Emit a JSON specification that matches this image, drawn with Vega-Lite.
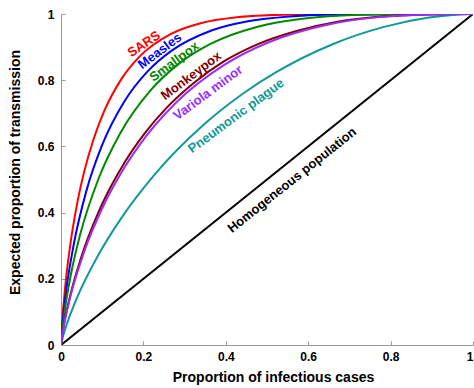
{
  "$schema": "https://vega.github.io/schema/vega-lite/v6.json",
  "width": 412,
  "height": 331,
  "autosize": "none",
  "padding": {"left": 61, "top": 14, "right": 1, "bottom": 43},
  "config": {
    "view": {"stroke": null},
    "font": "Liberation Sans",
    "axis": {
      "grid": false,
      "domainColor": "#999999",
      "tickColor": "#999999",
      "tickSize": -4,
      "labelFont": "Liberation Sans",
      "labelFontWeight": "bold",
      "labelFontSize": 12,
      "labelColor": "#000000",
      "labelFlush": false,
      "labelOverlap": false,
      "titleFont": "Liberation Sans",
      "titleFontSize": 14,
      "titleFontWeight": "bold",
      "titleColor": "#000000"
    }
  },
  "datasets": {
    "curves": [
      {"series": "Homogeneous population", "x": 0, "y": 0},
      {"series": "Homogeneous population", "x": 1, "y": 1},
      {"series": "Pneumonic plague", "x": 0, "y": 0},
      {"series": "Pneumonic plague", "x": 0.00085, "y": 0.0056},
      {"series": "Pneumonic plague", "x": 0.0057, "y": 0.0294},
      {"series": "Pneumonic plague", "x": 0.0147, "y": 0.0648},
      {"series": "Pneumonic plague", "x": 0.0372, "y": 0.1376},
      {"series": "Pneumonic plague", "x": 0.0929, "y": 0.277},
      {"series": "Pneumonic plague", "x": 0.1455, "y": 0.3819},
      {"series": "Pneumonic plague", "x": 0.2261, "y": 0.5132},
      {"series": "Pneumonic plague", "x": 0.3468, "y": 0.666},
      {"series": "Pneumonic plague", "x": 0.4447, "y": 0.7621},
      {"series": "Pneumonic plague", "x": 0.5223, "y": 0.8242},
      {"series": "Pneumonic plague", "x": 0.6579, "y": 0.908},
      {"series": "Pneumonic plague", "x": 0.7865, "y": 0.9618},
      {"series": "Pneumonic plague", "x": 0.8934, "y": 0.9891},
      {"series": "Pneumonic plague", "x": 0.9669, "y": 0.9986},
      {"series": "Pneumonic plague", "x": 1, "y": 1},
      {"series": "SARS", "x": 0, "y": 0},
      {"series": "SARS", "x": 0.00026, "y": 0.0096},
      {"series": "SARS", "x": 0.0028, "y": 0.0666},
      {"series": "SARS", "x": 0.0099, "y": 0.1725},
      {"series": "SARS", "x": 0.0195, "y": 0.2755},
      {"series": "SARS", "x": 0.0406, "y": 0.4363},
      {"series": "SARS", "x": 0.056, "y": 0.5223},
      {"series": "SARS", "x": 0.0794, "y": 0.6233},
      {"series": "SARS", "x": 0.1058, "y": 0.7093},
      {"series": "SARS", "x": 0.1469, "y": 0.804},
      {"series": "SARS", "x": 0.1904, "y": 0.8711},
      {"series": "SARS", "x": 0.2659, "y": 0.9392},
      {"series": "SARS", "x": 0.3386, "y": 0.9721},
      {"series": "SARS", "x": 0.4264, "y": 0.9902},
      {"series": "SARS", "x": 0.5396, "y": 0.998},
      {"series": "SARS", "x": 0.6439, "y": 0.9997},
      {"series": "SARS", "x": 1, "y": 1},
      {"series": "Measles", "x": 0, "y": 0},
      {"series": "Measles", "x": 0.00045, "y": 0.0112},
      {"series": "Measles", "x": 0.0045, "y": 0.0749},
      {"series": "Measles", "x": 0.0155, "y": 0.1898},
      {"series": "Measles", "x": 0.0302, "y": 0.2991},
      {"series": "Measles", "x": 0.0616, "y": 0.4656},
      {"series": "Measles", "x": 0.099, "y": 0.6013},
      {"series": "Measles", "x": 0.1545, "y": 0.7371},
      {"series": "Measles", "x": 0.2107, "y": 0.8273},
      {"series": "Measles", "x": 0.2686, "y": 0.8894},
      {"series": "Measles", "x": 0.3652, "y": 0.9502},
      {"series": "Measles", "x": 0.4538, "y": 0.9782},
      {"series": "Measles", "x": 0.5552, "y": 0.9928},
      {"series": "Measles", "x": 0.6757, "y": 0.9987},
      {"series": "Measles", "x": 1, "y": 1},
      {"series": "Smallpox", "x": 0, "y": 0},
      {"series": "Smallpox", "x": 0.0007, "y": 0.0133},
      {"series": "Smallpox", "x": 0.0022, "y": 0.0341},
      {"series": "Smallpox", "x": 0.0071, "y": 0.0862},
      {"series": "Smallpox", "x": 0.024, "y": 0.2129},
      {"series": "Smallpox", "x": 0.0457, "y": 0.3297},
      {"series": "Smallpox", "x": 0.0911, "y": 0.5023},
      {"series": "Smallpox", "x": 0.1431, "y": 0.6383},
      {"series": "Smallpox", "x": 0.2178, "y": 0.7698},
      {"series": "Smallpox", "x": 0.2905, "y": 0.8538},
      {"series": "Smallpox", "x": 0.3627, "y": 0.9096},
      {"series": "Smallpox", "x": 0.4776, "y": 0.9617},
      {"series": "Smallpox", "x": 0.5765, "y": 0.9842},
      {"series": "Smallpox", "x": 0.6819, "y": 0.9952},
      {"series": "Smallpox", "x": 0.7951, "y": 0.9992},
      {"series": "Smallpox", "x": 1, "y": 1},
      {"series": "Monkeypox", "x": 0, "y": 0},
      {"series": "Monkeypox", "x": 0.0007, "y": 0.0089},
      {"series": "Monkeypox", "x": 0.0047, "y": 0.0445},
      {"series": "Monkeypox", "x": 0.0109, "y": 0.0868},
      {"series": "Monkeypox", "x": 0.0237, "y": 0.1566},
      {"series": "Monkeypox", "x": 0.0477, "y": 0.26},
      {"series": "Monkeypox", "x": 0.0897, "y": 0.3978},
      {"series": "Monkeypox", "x": 0.1198, "y": 0.4756},
      {"series": "Monkeypox", "x": 0.1573, "y": 0.5576},
      {"series": "Monkeypox", "x": 0.2031, "y": 0.6395},
      {"series": "Monkeypox", "x": 0.2579, "y": 0.7186},
      {"series": "Monkeypox", "x": 0.3222, "y": 0.7916},
      {"series": "Monkeypox", "x": 0.3961, "y": 0.8574},
      {"series": "Monkeypox", "x": 0.4795, "y": 0.9098},
      {"series": "Monkeypox", "x": 0.5716, "y": 0.9488},
      {"series": "Monkeypox", "x": 0.6714, "y": 0.977},
      {"series": "Monkeypox", "x": 0.7773, "y": 0.9924},
      {"series": "Monkeypox", "x": 0.8875, "y": 0.9988},
      {"series": "Monkeypox", "x": 0.9436, "y": 0.9999},
      {"series": "Monkeypox", "x": 1, "y": 1},
      {"series": "Variola minor", "x": 0, "y": 0},
      {"series": "Variola minor", "x": 0.0007, "y": 0.0086},
      {"series": "Variola minor", "x": 0.0061, "y": 0.052},
      {"series": "Variola minor", "x": 0.0184, "y": 0.124},
      {"series": "Variola minor", "x": 0.0569, "y": 0.2839},
      {"series": "Variola minor", "x": 0.1024, "y": 0.4191},
      {"series": "Variola minor", "x": 0.1473, "y": 0.5229},
      {"series": "Variola minor", "x": 0.1891, "y": 0.6018},
      {"series": "Variola minor", "x": 0.2794, "y": 0.7324},
      {"series": "Variola minor", "x": 0.3962, "y": 0.8463},
      {"series": "Variola minor", "x": 0.4982, "y": 0.9116},
      {"series": "Variola minor", "x": 0.6464, "y": 0.9676},
      {"series": "Variola minor", "x": 0.7661, "y": 0.9898},
      {"series": "Variola minor", "x": 0.8548, "y": 0.9973},
      {"series": "Variola minor", "x": 0.9227, "y": 0.9995},
      {"series": "Variola minor", "x": 1, "y": 1}
    ],
    "labels": [
      {"series": "SARS", "x": 0.2015, "y": 0.909},
      {"series": "Measles", "x": 0.24, "y": 0.888},
      {"series": "Smallpox", "x": 0.275, "y": 0.856},
      {"series": "Monkeypox", "x": 0.316, "y": 0.813},
      {"series": "Variola minor", "x": 0.357, "y": 0.762},
      {"series": "Pneumonic plague", "x": 0.425, "y": 0.692},
      {"series": "Homogeneous population", "x": 0.561, "y": 0.498}
    ]
  },
  "encoding": {
    "x": {
      "field": "x", "type": "quantitative",
      "scale": {"domain": [0, 1], "nice": false, "zero": false},
      "axis": {
        "title": "Proportion of infectious cases",
        "values": [0, 0.2, 0.4, 0.6, 0.8, 1], "format": "~g",
        "labelPadding": 10, "titlePadding": 8, "titleX": 212,
        "labelAlign": {"condition": {"test": "datum.value === 1", "value": "right"}, "value": "center"}
      }
    },
    "y": {
      "field": "y", "type": "quantitative",
      "scale": {"domain": [0, 1], "nice": false, "zero": false},
      "axis": {
        "title": "Expected proportion of transmission",
        "values": [0, 0.2, 0.4, 0.6, 0.8, 1], "format": "~g",
        "labelPadding": 11, "titlePadding": 15, "titleY": 158
      }
    },
    "color": {
      "field": "series", "type": "nominal",
      "scale": {
        "domain": ["SARS", "Measles", "Smallpox", "Monkeypox", "Variola minor", "Pneumonic plague", "Homogeneous population"],
        "range": ["#ff0000", "#0000ff", "#008800", "#800000", "#9a2cff", "#119999", "#000000"]
      },
      "legend": null
    }
  },
  "layer": [
    {
      "data": {"name": "curves"},
      "mark": {"type": "line", "strokeWidth": 2, "interpolate": "monotone", "clip": true}
    },
    {
      "data": {"name": "labels"},
      "transform": [{"filter": "datum.series === 'SARS'"}],
      "mark": {"type": "text", "angle": -34, "fontSize": 13, "fontWeight": "bold", "align": "center", "baseline": "middle"},
      "encoding": {"text": {"field": "series"}}
    },
    {
      "data": {"name": "labels"},
      "transform": [{"filter": "datum.series === 'Measles' || datum.series === 'Monkeypox'"}],
      "mark": {"type": "text", "angle": -37, "fontSize": 13, "fontWeight": "bold", "align": "center", "baseline": "middle"},
      "encoding": {"text": {"field": "series"}}
    },
    {
      "data": {"name": "labels"},
      "transform": [{"filter": "datum.series === 'Smallpox' || datum.series === 'Variola minor' || datum.series === 'Pneumonic plague'"}],
      "mark": {"type": "text", "angle": -36.5, "fontSize": 13, "fontWeight": "bold", "align": "center", "baseline": "middle"},
      "encoding": {"text": {"field": "series"}}
    },
    {
      "data": {"name": "labels"},
      "transform": [{"filter": "datum.series === 'Homogeneous population'"}],
      "mark": {"type": "text", "angle": -38.6, "fontSize": 13, "fontWeight": "bold", "align": "center", "baseline": "middle"},
      "encoding": {"text": {"field": "series"}}
    }
  ]
}
